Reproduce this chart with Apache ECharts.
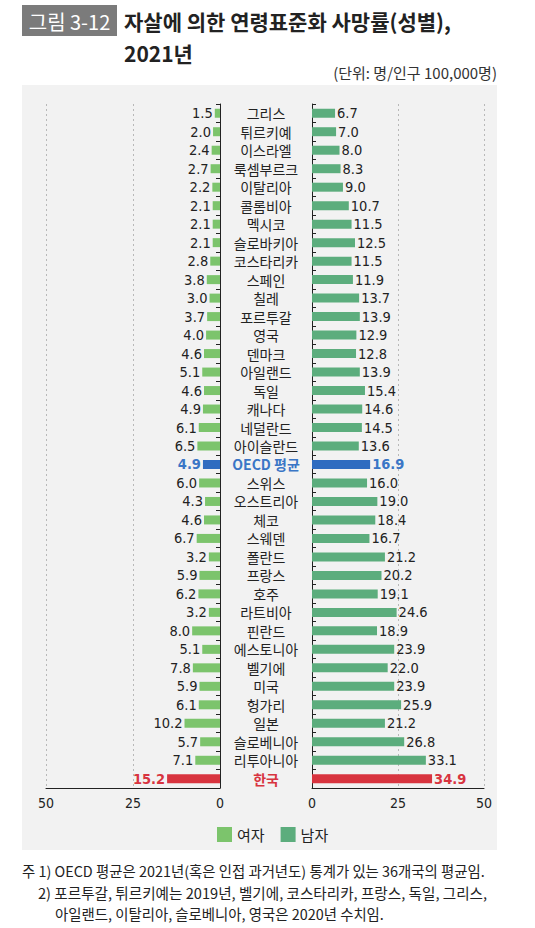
<!DOCTYPE html>
<html><head><meta charset="utf-8">
<script src="https://cdn.jsdelivr.net/npm/echarts@6/dist/echarts.min.js"></script>
<style>html,body{margin:0;padding:0;background:#fff}#c{width:535px;height:928px}</style>
</head><body><div id="c"></div>
<script>
const categories = ['그리스','튀르키예','이스라엘','룩셈부르크','이탈리아','콜롬비아','멕시코','슬로바키아','코스타리카','스페인','칠레','포르투갈','영국','덴마크','아일랜드','독일','캐나다','네덜란드','아이슬란드','OECD 평균','스위스','오스트리아','체코','스웨덴','폴란드','프랑스','호주','라트비아','핀란드','에스토니아','벨기에','미국','헝가리','일본','슬로베니아','리투아니아','한국'];
const female = [1.5,2.0,2.4,2.7,2.2,2.1,2.1,2.1,2.8,3.8,3.0,3.7,4.0,4.6,5.1,4.6,4.9,6.1,6.5,4.9,6.0,4.3,4.6,6.7,3.2,5.9,6.2,3.2,8.0,5.1,7.8,5.9,6.1,10.2,5.7,7.1,15.2];
const male = [6.7,7.0,8.0,8.3,9.0,10.7,11.5,12.5,11.5,11.9,13.7,13.9,12.9,12.8,13.9,15.4,14.6,14.5,13.6,16.9,16.0,19.0,18.4,16.7,21.2,20.2,19.1,24.6,18.9,23.9,22.0,23.9,25.9,21.2,26.8,33.1,34.9];
const axisTicks = [0,25,50];

const C_F = '#7cc46c', C_M = '#5cad7d', C_OECD = '#2f6cc0', C_KR = '#d8343f';
const NUMFONT = '"DejaVu Sans Condensed","Liberation Sans Narrow","Roboto",sans-serif';
const KFONT = '"Noto Sans CJK KR","Noto Sans",sans-serif';

function mk(vals, base){
  return vals.map((v,i)=>{
    const c = categories[i];
    let col = base, lc = '#222', fw = 'normal';
    if(c==='OECD 평균'){col=C_OECD; lc='#3a76c6'; fw='bold';}
    if(c==='한국'){col=C_KR; lc=C_KR; fw='bold';}
    return {value:v, itemStyle:{color:col}, label:{color:lc, fontWeight:fw}};
  });
}
const fmt = p => p.value.toFixed(1);

const chart = echarts.init(document.getElementById('c'), null, {renderer:'svg'});
const xCommon = {
  type:'value', min:0, max:50, interval:25,
  axisLine:{show:true, lineStyle:{color:'#222', width:1}},
  axisTick:{show:false},
  axisLabel:{color:'#222', fontSize:14, fontFamily:NUMFONT, margin:8, formatter:v=>axisTicks.includes(v)?String(v):''},
  splitLine:{show:true, lineStyle:{color:'#b8b8b8', type:[2,3], width:1}}
};
chart.setOption({
  animation:false,
  textStyle:{fontFamily:KFONT},
  graphic:[
    {type:'rect', shape:{x:22,y:85,width:475,height:765}, style:{fill:'#f2f2f2'}, z:-10},
    {type:'rect', shape:{x:22,y:5,width:95,height:31}, style:{fill:'#7b7b7b'}},
    {type:'text', x:69.5, y:21, style:{text:'그림 3-12', fill:'#fff', font:'20px '+KFONT, textAlign:'center', textVerticalAlign:'middle'}},
    {type:'text', x:124, y:21, style:{text:'자살에 의한 연령표준화 사망률(성별),', fill:'#222', font:'bold 21px '+KFONT, textVerticalAlign:'middle'}},
    {type:'text', x:124, y:53, style:{text:'2021년', fill:'#222', font:'bold 21px '+KFONT, textVerticalAlign:'middle'}},
    {type:'text', x:497, y:72, style:{text:'(단위: 명/인구 100,000명)', fill:'#333', font:'15px '+KFONT, textAlign:'right', textVerticalAlign:'middle'}},
    {type:'text', x:22, y:870, style:{text:'주 1) OECD 평균은 2021년(혹은 인접 과거년도) 통계가 있는 36개국의 평균임.', fill:'#222', font:'14.4px '+KFONT, textVerticalAlign:'middle'}},
    {type:'text', x:38, y:892, style:{text:'2) 포르투갈, 튀르키예는 2019년, 벨기에, 코스타리카, 프랑스, 독일, 그리스,', fill:'#222', font:'14.6px '+KFONT, textVerticalAlign:'middle'}},
    {type:'text', x:55, y:913, style:{text:'아일랜드, 이탈리아, 슬로베니아, 영국은 2020년 수치임.', fill:'#222', font:'14.4px '+KFONT, textVerticalAlign:'middle'}}
  ],
  legend:{
    data:['여자','남자'], left:212, top:822, itemWidth:15, itemHeight:15, itemGap:16,
    textStyle:{color:'#222', fontSize:15, fontFamily:KFONT}, icon:'rect'
  },
  grid:[
    {left:46, width:174, top:104, height:684},
    {left:312, width:172, top:104, height:684}
  ],
  xAxis:[
    Object.assign({gridIndex:0, inverse:true}, xCommon),
    Object.assign({gridIndex:1}, xCommon)
  ],
  yAxis:[
    {gridIndex:0, type:'category', data:categories, inverse:true, position:'right',
     axisLine:{lineStyle:{color:'#222'}}, axisTick:{show:true, inside:true, length:4, interval:0, lineStyle:{color:'#222'}},
     axisLabel:{show:false}, splitLine:{show:false}},
    {gridIndex:1, type:'category', data:categories, inverse:true, position:'left',
     axisLine:{lineStyle:{color:'#222'}}, axisTick:{show:true, inside:true, length:4, interval:0, lineStyle:{color:'#222'}},
     axisLabel:{show:true, interval:0, align:'center', margin:46, fontSize:14, lineHeight:16, color:'#222', fontFamily:KFONT,
       formatter:v=> v==='OECD 평균' ? '{o|'+v+'}' : (v==='한국' ? '{k|'+v+'}' : v),
       rich:{o:{color:'#3a76c6', fontWeight:'bold', fontSize:14, lineHeight:16, fontFamily:KFONT}, k:{color:C_KR, fontWeight:'bold', fontSize:14, lineHeight:16, fontFamily:KFONT}}},
     splitLine:{show:false}}
  ],
  series:[
    {name:'여자', type:'bar', xAxisIndex:0, yAxisIndex:0, data:mk(female,C_F), barWidth:9, itemStyle:{color:C_F},
     label:{show:true, position:'left', distance:2, fontSize:14.5, lineHeight:16, fontFamily:NUMFONT, formatter:fmt}},
    {name:'남자', type:'bar', xAxisIndex:1, yAxisIndex:1, data:mk(male,C_M), barWidth:9, itemStyle:{color:C_M},
     label:{show:true, position:'right', distance:2, fontSize:14.5, lineHeight:16, fontFamily:NUMFONT, formatter:fmt}}
  ]
});
</script></body></html>
